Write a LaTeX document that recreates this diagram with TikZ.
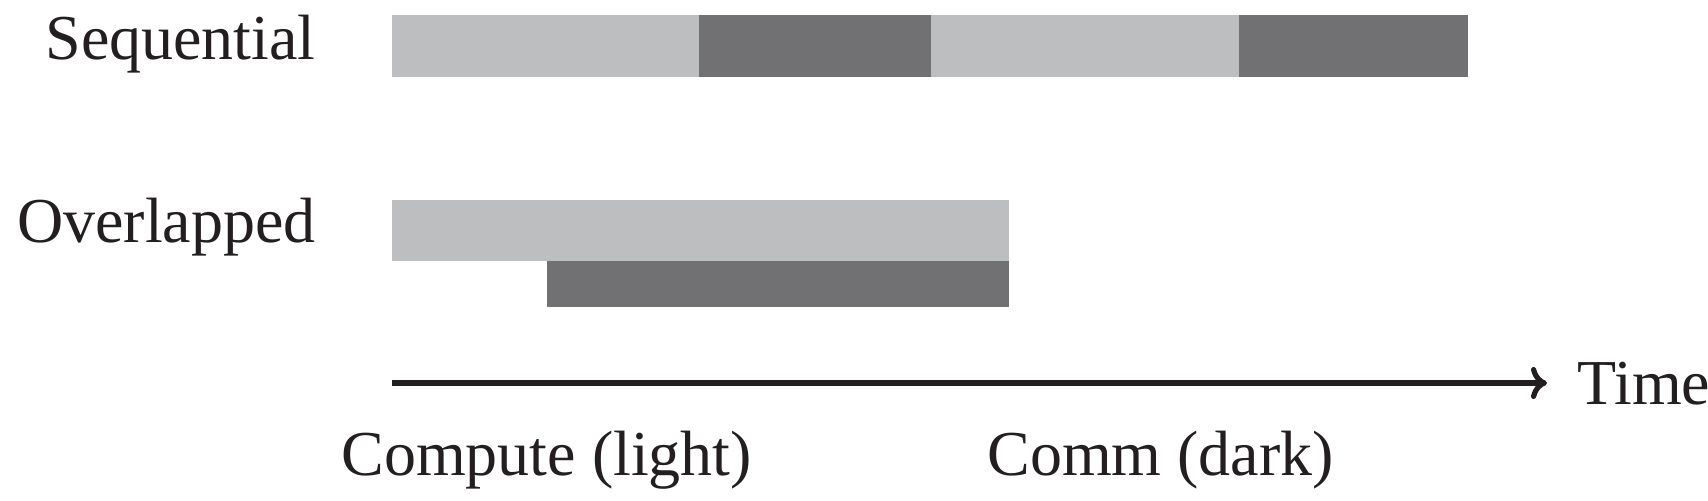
\documentclass[tikz,border=0pt]{standalone}
\usepackage{fontspec}
\setmainfont{Liberation Serif}
\usetikzlibrary{arrows.meta}
\definecolor{lightbar}{HTML}{BDBEC0}
\definecolor{darkbar}{HTML}{717173}
\definecolor{ink}{HTML}{231F20}
\tikzset{
  lbl/.style={inner sep=0pt, font=\fontsize{32}{37}\selectfont, text=ink},
  lightseg/.style={fill=lightbar},
  darkseg/.style={fill=darkbar},
  timeaxis/.style={draw=ink, line width=2.6pt, -{To[length=8pt,width=16pt,line width=2.6pt]}}
}
\begin{document}
\begin{tikzpicture}[x=0.5pt,y=-0.5pt]
\useasboundingbox (0,0) rectangle (1708,501);
% Sequential row
\fill[lightseg] (392,15) rectangle (699,77);
\fill[darkseg]  (699,15) rectangle (931,77);
\fill[lightseg] (931,15) rectangle (1239,77);
\fill[darkseg]  (1239,15) rectangle (1468,77);
% Overlapped row
\fill[lightseg] (392,200) rectangle (1009,261);
\fill[darkseg]  (547,261) rectangle (1009,307);
% labels
\node[lbl, anchor=base east] (seq) at (316,60) {Sequential};
\node[lbl, anchor=base east] (ovl) at (316,243) {Overlapped};
% time axis
\coordinate (t0) at (392,383);
\coordinate (t1) at (1547,383);
\draw[timeaxis] (t0) -- (t1);
\node[lbl, anchor=base west] (time) at (1577,405) {Time};
% legend
\node[lbl, anchor=base west] (comp) at (341,476) {Compute (light)};
\node[lbl, anchor=base west] (comm) at (987,476) {Comm (dark)};
\end{tikzpicture}
\end{document}
